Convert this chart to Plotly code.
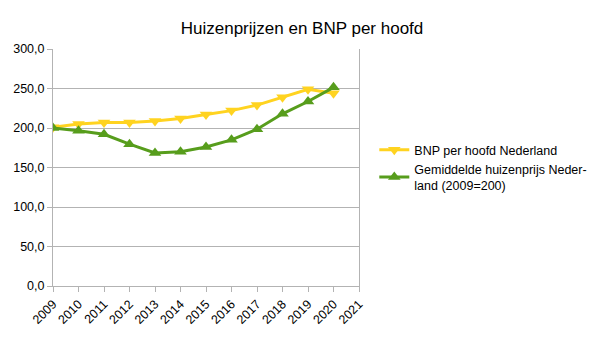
import plotly.graph_objects as go

years = [2009, 2010, 2011, 2012, 2013, 2014, 2015, 2016, 2017, 2018, 2019, 2020]
bnp_per_hoofd = [201, 205, 207, 207, 209, 212, 217, 222, 229, 239, 249, 244]
huizenprijs = [200, 196.5, 192, 179.5, 168.5, 170, 176, 185, 198.5, 218, 233.5, 251.5]
tick_years = list(range(2009, 2022))

FONT = "Liberation Sans, Arial, sans-serif"
GRID = "#b3b3b3"

fig = go.Figure()
fig.add_trace(go.Scatter(
    x=years, y=bnp_per_hoofd, name="BNP per hoofd Nederland",
    mode="lines+markers",
    line=dict(color="#ffd320", width=3),
    marker=dict(symbol="triangle-down", size=11, color="#ffd320"),
))
fig.add_trace(go.Scatter(
    x=years, y=huizenprijs, name="Gemiddelde huizenprijs Neder-<br>land (2009=200)",
    mode="lines+markers",
    line=dict(color="#579d1c", width=3),
    marker=dict(symbol="triangle-up", size=11, color="#579d1c"),
))

fig.update_layout(
    width=604, height=340,
    margin=dict(l=53, r=245, t=49, b=54),
    paper_bgcolor="white", plot_bgcolor="white",
    separators=", ",
    font=dict(family=FONT, size=12, color="#000000"),
    title=dict(text="Huizenprijzen en BNP per hoofd", x=0.5, xanchor="center",
               y=0.918, yanchor="middle", font=dict(size=17, family=FONT)),
    legend=dict(x=1.05, xanchor="left", y=0.50, yanchor="middle",
                font=dict(size=12.5, family=FONT), tracegroupgap=0,
                bgcolor="rgba(0,0,0,0)"),
    xaxis=dict(
        range=[2009, 2021], tickmode="array", tickvals=tick_years,
        ticktext=[str(y) for y in tick_years], tickangle=-45,
        showgrid=False, showline=True, linecolor=GRID, linewidth=1,
        ticks="outside", ticklen=5, tickcolor=GRID,
        tickfont=dict(size=12.5, family=FONT), zeroline=False,
    ),
    yaxis=dict(
        range=[0, 300], dtick=50, tickformat=".1f",
        showgrid=True, gridcolor=GRID, gridwidth=1,
        showline=True, linecolor=GRID, linewidth=1, mirror=True,
        ticks="outside", ticklen=5, tickcolor=GRID,
        tickfont=dict(size=12.5, family=FONT), zeroline=False,
    ),
)

fig.write_html("out.html")
